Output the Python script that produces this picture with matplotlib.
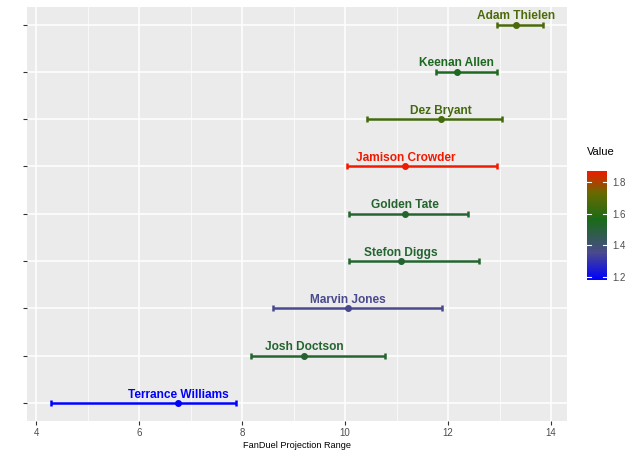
import numpy as np
import matplotlib
matplotlib.use("Agg")
import matplotlib.pyplot as plt
from matplotlib.colors import LinearSegmentedColormap, Normalize
from matplotlib.colorbar import ColorbarBase

plt.rcParams['font.family'] = ['Liberation Sans', 'DejaVu Sans']

# players from bottom to top
players = ["Terrance Williams", "Josh Doctson", "Marvin Jones", "Stefon Diggs",
           "Golden Tate", "Jamison Crowder", "Dez Bryant", "Keenan Allen", "Adam Thielen"]
low = [4.29, 8.17, 8.60, 10.08, 10.08, 10.04, 10.43, 11.77, 12.95]
mid = [6.76, 9.20, 10.06, 11.09, 11.17, 11.17, 11.86, 12.17, 13.32]
high = [7.88, 10.78, 11.88, 12.60, 12.39, 12.95, 13.05, 12.95, 13.84]
value = [1.18, 1.52, 1.35, 1.52, 1.52, 1.87, 1.65, 1.55, 1.67]

cmap = LinearSegmentedColormap.from_list(
    "bgr", [(0.0, "#0000ff"), (0.25, "#4a4a8c"), (0.55, "#1a6a1a"),
            (0.8, "#686a00"), (1.0, "#f01a00")])
norm = Normalize(vmin=min(value), vmax=max(value))

fig = plt.figure(figsize=(6.4, 4.57), dpi=100)
ax = fig.add_axes([27/640, 1-421/457, 540/640, 414/457])
ax.set_facecolor("#ebebeb")

ypos = np.arange(1, len(players) + 1)
for y, lo, m, hi, v, name in zip(ypos, low, mid, high, value, players):
    c = cmap(norm(v))
    ax.errorbar(m, y, xerr=[[m - lo], [hi - m]], fmt='o', color=c, ms=4,
                elinewidth=1.8, capsize=2.5, capthick=1.8, zorder=3)
    ax.annotate(name, (m, y), xytext=(0, 1.8), textcoords='offset points',
                ha='center', va='bottom', color=c, fontsize=8.6,
                fontweight='bold', zorder=4)

ax.set_xlim(3.825, 14.31)
ax.set_ylim(0.62, 9.37)
ax.set_xticks([4, 6, 8, 10, 12, 14])
ax.set_xticks([5, 7, 9, 11, 13], minor=True)
ax.set_yticks(ypos)
ax.set_yticklabels([])
ax.grid(True, which='major', color='white', linewidth=1.1)
ax.grid(True, which='minor', axis='x', color='white', linewidth=0.5)
ax.set_axisbelow(True)
for s in ax.spines.values():
    s.set_visible(False)
ax.tick_params(axis='both', which='major', length=3, color='#333333',
               labelsize=7, labelcolor='#4d4d4d', pad=2)
ax.tick_params(which='minor', length=0)
ax.set_xlabel("FanDuel Projection Range", fontsize=6.6, color='black', labelpad=2)

# colour legend
cax = fig.add_axes([587/640, 1-280/457, 20/640, 109/457])
cb = ColorbarBase(cax, cmap=cmap, norm=norm)
cb.outline.set_visible(False)
cb.set_ticks([1.2, 1.4, 1.6, 1.8])
cb.set_ticklabels(["1.2", "1.4", "1.6", "1.8"])
cax.tick_params(length=0, labelsize=7, labelcolor='#4d4d4d', pad=4)
for t in [1.2, 1.4, 1.6, 1.8]:
    cax.plot([0, 0.2], [t, t], color='white', lw=0.8, transform=cax.get_yaxis_transform())
    cax.plot([0.8, 1], [t, t], color='white', lw=0.8, transform=cax.get_yaxis_transform())
fig.text(587/640, 1-152/457, "Value", fontsize=8, va='center', ha='left')

fig.savefig("out.png", dpi=100)
